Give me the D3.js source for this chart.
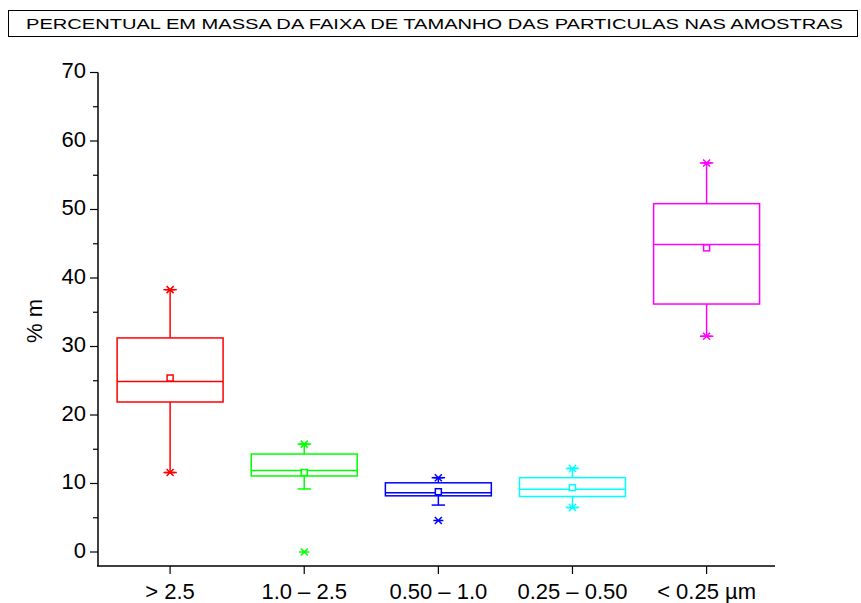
<!DOCTYPE html>
<html>
<head>
<meta charset="utf-8">
<script src="https://d3js.org/d3.v7.min.js"></script>
<style>
  body { margin: 0; background: #fff; }
  text { font-family: "Liberation Sans", Arial, sans-serif; }
</style>
</head>
<body>
<script>
// values (% mass)
const categories = ["> 2.5", "1.0 \u2013 2.5", "0.50 \u2013 1.0", "0.25 \u2013 0.50", "< 0.25 \u00b5m"];
const colors     = ["#ff0000", "#00ff00", "#0000ff", "#00ffff", "#ff00ff"];
const q1         = [21.9, 11.1, 8.2, 8.1, 36.2];
const median     = [24.9, 11.9, 8.65, 9.15, 44.9];
const q3         = [31.25, 14.3, 10.1, 10.85, 50.85];
const mean       = [25.4, 11.6, 8.8, 9.4, 44.4];
const whiskLow   = [11.6, 9.2, 6.85, 6.5, 31.5];
const whiskHigh  = [38.3, 15.75, 10.85, 12.2, 56.8];
const minVals    = [11.6, 0, 4.6, 6.5, 31.5];
const maxVals    = [38.3, 15.75, 10.85, 12.2, 56.8];
const yTicks     = [0, 10, 20, 30, 40, 50, 60, 70];
const yMinor     = [5, 15, 25, 35, 45, 55, 65];

const W = 861, H = 603;
const svg = d3.select("body").append("svg")
    .attr("width", W).attr("height", H);

// title box
svg.append("rect")
    .attr("x", 8.5).attr("y", 10.5).attr("width", 849).attr("height", 26)
    .attr("fill", "none").attr("stroke", "#000").attr("stroke-width", 1);
svg.append("text")
    .attr("x", 26).attr("y", 29)
    .attr("font-size", 14.5)
    .attr("textLength", 817).attr("lengthAdjust", "spacingAndGlyphs")
    .text("PERCENTUAL EM MASSA DA FAIXA DE TAMANHO DAS PARTICULAS NAS AMOSTRAS");

const x = d3.scaleLinear().domain([0.455, 5.51]).range([97, 775]);
const y = d3.scaleLinear().domain([0, 70]).range([552, 72.5]);
const xAxisY = 566;

// y axis
const gy = svg.append("g").attr("transform", "translate(98,0)");
gy.append("line").attr("x1", 0).attr("x2", 0)
    .attr("y1", y(70)).attr("y2", xAxisY)
    .attr("stroke", "#000").attr("stroke-width", 1.5);
gy.selectAll(".maj").data(yTicks).join("line")
    .attr("x1", -8).attr("x2", 0)
    .attr("y1", d => y(d)).attr("y2", d => y(d))
    .attr("stroke", "#000").attr("stroke-width", 1.2);
gy.selectAll(".mn").data(yMinor).join("line")
    .attr("x1", -5).attr("x2", 0)
    .attr("y1", d => y(d)).attr("y2", d => y(d))
    .attr("stroke", "#000").attr("stroke-width", 1.2);
gy.selectAll(".lab").data(yTicks).join("text")
    .attr("x", -12).attr("y", d => y(d) + 5.5)
    .attr("text-anchor", "end").attr("font-size", 22)
    .text(d => d);

svg.append("text")
    .attr("transform", "translate(42,321) rotate(-90)")
    .attr("text-anchor", "middle").attr("font-size", 22)
    .text("% m");

// x axis
svg.append("line")
    .attr("x1", 97).attr("x2", 775).attr("y1", xAxisY).attr("y2", xAxisY)
    .attr("stroke", "#000").attr("stroke-width", 1.5);
const idx = d3.range(categories.length);
svg.selectAll(".xt").data(idx).join("line")
    .attr("x1", i => x(i + 1)).attr("x2", i => x(i + 1))
    .attr("y1", xAxisY).attr("y2", xAxisY + 8)
    .attr("stroke", "#000").attr("stroke-width", 1.2);
svg.selectAll(".xl").data(idx).join("text")
    .attr("x", i => x(i + 1)).attr("y", 599)
    .attr("text-anchor", "middle").attr("font-size", 22)
    .text(i => categories[i]);

// boxes
const half = 0.395, cap = 0.05;
const g = svg.append("g").attr("fill", "none").attr("stroke-width", 1.5);

function marker(sel, cx, cy, col) {
  const s = 3.5;
  sel.append("path")
     .attr("d", `M${cx - s},${cy - s}L${cx + s},${cy + s}M${cx - s},${cy + s}L${cx + s},${cy - s}M${cx - 5},${cy}L${cx + 5},${cy}`)
     .attr("stroke", col);
}

idx.forEach(i => {
  const c = colors[i], cx = x(i + 1);
  const b = g.append("g").attr("stroke", c);
  // whiskers
  b.append("line").attr("x1", cx).attr("x2", cx).attr("y1", y(q3[i])).attr("y2", y(whiskHigh[i]));
  b.append("line").attr("x1", cx).attr("x2", cx).attr("y1", y(q1[i])).attr("y2", y(whiskLow[i]));
  [whiskLow[i], whiskHigh[i]].forEach(v => {
    b.append("line").attr("x1", x(i + 1 - cap)).attr("x2", x(i + 1 + cap))
      .attr("y1", y(v)).attr("y2", y(v));
  });
  // box
  b.append("rect")
    .attr("x", x(i + 1 - half)).attr("width", x(i + 1 + half) - x(i + 1 - half))
    .attr("y", y(q3[i])).attr("height", y(q1[i]) - y(q3[i]));
  b.append("line").attr("x1", x(i + 1 - half)).attr("x2", x(i + 1 + half))
    .attr("y1", y(median[i])).attr("y2", y(median[i]));
  // mean
  b.append("rect").attr("x", cx - 3).attr("y", y(mean[i]) - 3)
    .attr("width", 6).attr("height", 6).attr("fill", "#fff");
  // min / max markers
  marker(b, cx, y(minVals[i]), c);
  marker(b, cx, y(maxVals[i]), c);
});
</script>
</body>
</html>
